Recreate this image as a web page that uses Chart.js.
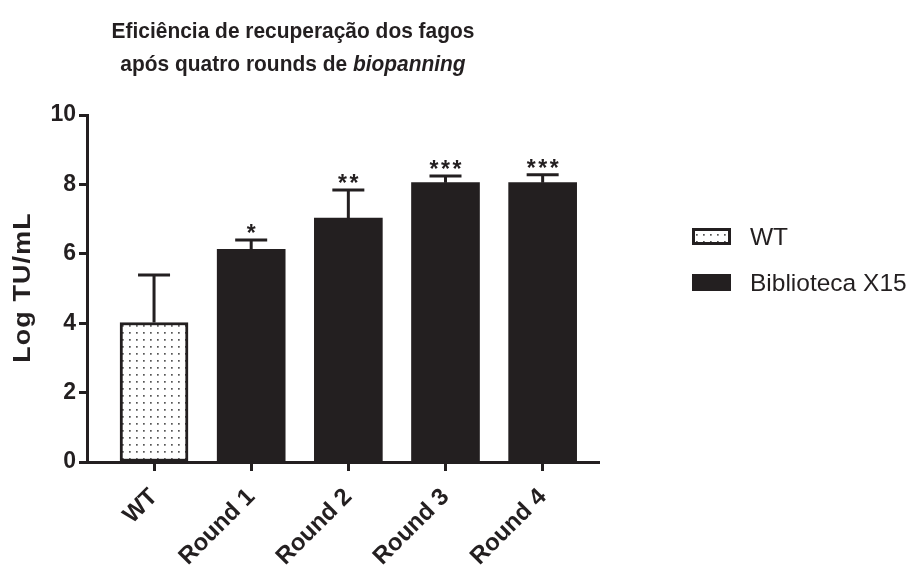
<!DOCTYPE html>
<html>
<head>
<meta charset="utf-8">
<script src="https://cdn.jsdelivr.net/npm/chart.js@4"></script>
<style>
  html, body { margin: 0; padding: 0; background: #ffffff; }
  #wrap { width: 911px; height: 570px; }
</style>
</head>
<body>
<div id="wrap"><canvas id="chart" width="911" height="570"></canvas></div>
<script>
// Phage recovery efficiency (log TU/mL) after each biopanning round
const categories = ['WT', 'Round 1', 'Round 2', 'Round 3', 'Round 4'];
const wtValues = [4.02];
const libraryValues = [6.13, 7.03, 8.05, 8.05];
const upperError = [5.39, 6.40, 7.84, 8.24, 8.28];
const significance = ['', '*', '**', '***', '***'];
const yTicks = [0, 2, 4, 6, 8, 10];
const seriesNames = ['WT', 'Biblioteca X15'];
const titleLines = ['Eficiência de recuperação dos fagos', 'após quatro rounds de ', 'biopanning'];
const yTitle = 'Log TU/mL';

const INK = '#231f20';
const FONT = '"Liberation Sans", Arial, Helvetica, sans-serif';

// Stippled fill used for the WT bar
function dotPattern() {
  const c = document.createElement('canvas');
  c.width = 7; c.height = 7;
  const g = c.getContext('2d');
  g.fillStyle = '#ffffff';
  g.fillRect(0, 0, 7, 7);
  g.fillStyle = '#555555';
  g.fillRect(3, 3, 1.7, 1.7);
  return g.createPattern(c, 'repeat');
}
const stipple = dotPattern();

const wtData = wtValues.map((v, i) => ({ x: i, y: v }));
const libData = libraryValues.map((v, i) => ({ x: i + 1, y: v }));

// One-sided (upper) error bars plus significance stars
const errorBars = {
  id: 'errorBars',
  afterDatasetsDraw(chart) {
    const { ctx, scales: { x, y } } = chart;
    ctx.save();
    ctx.strokeStyle = INK;
    ctx.lineWidth = 3;
    ctx.lineCap = 'butt';
    const means = wtValues.concat(libraryValues);
    means.forEach((m, i) => {
      const px = x.getPixelForValue(i);
      const top = y.getPixelForValue(upperError[i]);
      const base = y.getPixelForValue(m);
      ctx.beginPath();
      ctx.moveTo(px, base);
      ctx.lineTo(px, top);
      ctx.moveTo(px - 16, top);
      ctx.lineTo(px + 16, top);
      ctx.stroke();
      const s = significance[i];
      if (s) {
        ctx.fillStyle = INK;
        ctx.font = 'bold 23px ' + FONT;
        ctx.textAlign = 'center';
        ctx.textBaseline = 'alphabetic';
        const step = 11.5;
        const start = px - (s.length - 1) * step / 2;
        for (let k = 0; k < s.length; k++) {
          ctx.fillText('*', start + k * step, top + 1);
        }
      }
    });
    ctx.restore();
  }
};

// Draws text condensed or widened along its own direction
function fillScaled(ctx, text, x, y, sx) {
  ctx.save();
  ctx.translate(x, y);
  ctx.scale(sx, 1);
  ctx.fillText(text, 0, 0);
  ctx.restore();
}

// Two-line heading with the italic term on the second line, plus the y-axis caption
const heading = {
  id: 'heading',
  afterDraw(chart) {
    const { ctx, chartArea } = chart;
    ctx.save();
    ctx.fillStyle = INK;
    ctx.textBaseline = 'alphabetic';
    const cx = 293;
    const size = 22.5;
    const sx = 0.93;
    ctx.font = 'bold ' + size + 'px ' + FONT;
    ctx.textAlign = 'center';
    fillScaled(ctx, titleLines[0], cx, 38, sx);
    const a = titleLines[1], b = titleLines[2];
    const wa = ctx.measureText(a).width * sx;
    ctx.font = 'italic bold ' + size + 'px ' + FONT;
    const wb = ctx.measureText(b).width * sx;
    const left = cx - (wa + wb) / 2;
    ctx.textAlign = 'left';
    ctx.font = 'bold ' + size + 'px ' + FONT;
    fillScaled(ctx, a, left, 71, sx);
    ctx.font = 'italic bold ' + size + 'px ' + FONT;
    fillScaled(ctx, b, left + wa, 71, sx);

    // y-axis caption
    ctx.translate(23, (chartArea.top + chartArea.bottom) / 2);
    ctx.rotate(-Math.PI / 2);
    ctx.font = 'bold 24px ' + FONT;
    ctx.letterSpacing = '1px';
    ctx.textAlign = 'center';
    ctx.textBaseline = 'middle';
    fillScaled(ctx, yTitle, 1, 0, 1.12);
    ctx.restore();
  }
};

// Legend at the right, using each dataset's own fill
const sideLegend = {
  id: 'sideLegend',
  afterDraw(chart) {
    const { ctx } = chart;
    ctx.save();
    const rows = [228, 274];
    chart.data.datasets.forEach((ds, i) => {
      const y0 = rows[i];
      ctx.fillStyle = ds.backgroundColor;
      ctx.fillRect(692, y0, 39, 17);
      ctx.strokeStyle = INK;
      ctx.lineWidth = 3;
      ctx.strokeRect(693.5, y0 + 1.5, 36, 14);
      ctx.fillStyle = INK;
      ctx.font = '24.5px ' + FONT;
      ctx.textAlign = 'left';
      ctx.textBaseline = 'middle';
      ctx.fillText(ds.label, 750, y0 + 10);
    });
    ctx.restore();
  }
};

new Chart(document.getElementById('chart'), {
  type: 'bar',
  data: {
    datasets: [
      {
        label: seriesNames[0],
        data: wtData,
        backgroundColor: stipple,
        borderColor: INK,
        borderWidth: 3,
        borderSkipped: false,
        barThickness: 68
      },
      {
        label: seriesNames[1],
        data: libData,
        backgroundColor: INK,
        borderColor: INK,
        borderWidth: 0,
        barThickness: 68
      }
    ]
  },
  options: {
    responsive: false,
    animation: false,
    devicePixelRatio: 1,
    grouped: false,
    layout: { padding: { left: 0, top: 115, right: 312, bottom: 0 } },
    plugins: {
      legend: { display: false },
      title: { display: false },
      tooltip: { enabled: false }
    },
    scales: {
      x: {
        type: 'linear',
        offset: false,
        min: -0.69,
        max: 4.58,
        afterBuildTicks(scale) {
          scale.ticks = categories.map((_, i) => ({ value: i }));
        },
        afterFit(scale) { scale.height = 108; },
        border: { display: true, color: INK, width: 3 },
        grid: {
          display: true,
          offset: false,
          drawOnChartArea: false,
          drawTicks: true,
          tickLength: 9,
          tickWidth: 3,
          tickColor: INK,
          color: INK
        },
        ticks: {
          autoSkip: false,
          minRotation: 45,
          maxRotation: 45,
          padding: 12,
          color: INK,
          font: { family: FONT, size: 24, weight: 'bold' },
          callback: (v) => categories[v]
        }
      },
      y: {
        min: 0,
        max: 10,
        afterBuildTicks(scale) {
          scale.ticks = yTicks.map(v => ({ value: v }));
        },
        afterFit(scale) { scale.width = 87; },
        border: { display: true, color: INK, width: 3 },
        grid: {
          display: true,
          drawOnChartArea: false,
          drawTicks: true,
          tickLength: 8,
          tickWidth: 3,
          tickColor: INK,
          color: INK
        },
        ticks: {
          padding: 3,
          color: INK,
          font: { family: FONT, size: 23, weight: 'bold' }
        },
        title: { display: false }
      }
    }
  },
  plugins: [errorBars, heading, sideLegend]
});
</script>
</body>
</html>
